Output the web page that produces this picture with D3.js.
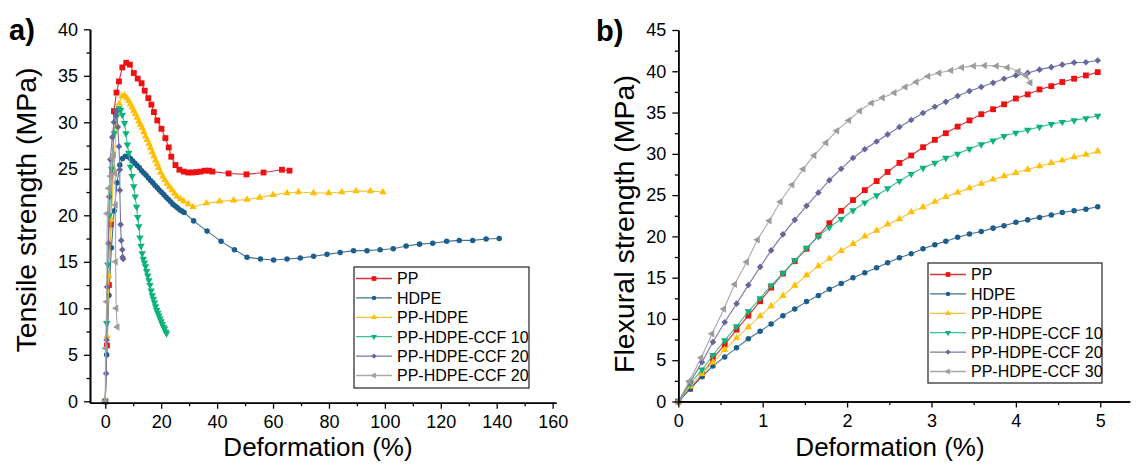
<!DOCTYPE html>
<html><head><meta charset="utf-8">
<script src="https://cdn.jsdelivr.net/npm/d3@7"></script>
<style>
body{margin:0;background:#fff}
svg{display:block}
text{font-family:"Liberation Sans",Arial,sans-serif;fill:#000}
</style>
</head><body>
<svg id="c" width="1137" height="466"></svg>
<script>
// ---------- Panel a) tensile ----------
const tensPP_x   = [0,0.6,1.3,2.0,2.6,3.1,4.0,4.9,6.1,7.5,8.8,10.2,11.6,13.0,14.1,15.4,16.5,17.4,18.6,20.1,21.5,22.7,23.6,25.1,26.5,28.1,29.6,31.1,32.6,34.1,35.6,37.1,38.3,44.1,50.5,56.6,63.2,65.9];
const tensPP_y   = [0,6,12.5,19,24.8,31.2,33.2,34.4,35.9,36.4,36.2,35.3,34.7,34.2,33.4,32.6,31.9,31.1,30.2,29.3,28.3,27.3,26.3,25.4,24.9,24.7,24.6,24.6,24.65,24.7,24.8,24.8,24.7,24.5,24.4,24.6,24.9,24.8];
const tensHDPE_x = [0,0.5,1.3,2.2,3.2,4.2,5.2,6.2,7.2,8.2,9.0,9.8,10.6,11.4,12.2,13.0,13.8,14.6,15.4,16.2,17.0,17.8,18.6,19.4,20.2,21.0,21.8,22.6,23.4,24.2,25.0,25.8,26.6,27.4,28.2,31.6,36.4,41.4,46.2,50.7,55.5,60.2,65.0,69.75,74.5,79.3,84.0,88.8,93.6,98.3,103.0,107.6,112.4,117.1,122.1,126.6,131.4,136.2,140.9];
const tensHDPE_y = [0,5,11.4,16.5,20.5,23.5,25.4,26.1,26.35,26.3,26.1,25.85,25.6,25.35,25.1,24.8,24.55,24.3,24.0,23.75,23.5,23.2,22.95,22.7,22.45,22.2,21.95,21.7,21.45,21.2,21.0,20.8,20.6,20.45,20.3,19.4,18.3,17.2,16.3,15.5,15.3,15.2,15.3,15.4,15.6,15.8,16.0,16.2,16.2,16.3,16.4,16.7,16.9,17.0,17.2,17.3,17.3,17.45,17.5];
const tensPPHDPE_x = [0,0.6,1.3,2.1,3.0,4.0,5.0,6.0,6.9,7.7,8.4,9.0,9.6,10.2,10.8,11.4,12.0,12.6,13.2,13.8,14.4,15.0,15.6,16.2,16.8,17.4,18.0,18.6,19.1,19.8,20.6,21.3,22.1,23.0,23.9,24.8,25.7,26.9,28.1,29.7,31.4,36.2,40.9,45.9,50.7,55.2,60.0,65.0,69.1,74.5,79.9,84.6,89.7,94.8,99.3];
const tensPPHDPE_y = [0,7,13.5,19.6,25,29.5,32,32.8,32.9,32.6,32.3,31.95,31.6,31.25,30.9,30.5,30.1,29.75,29.4,28.95,28.5,28.1,27.7,27.25,26.8,26.35,25.9,25.5,25.1,24.6,24.2,23.8,23.4,23.05,22.7,22.35,22.0,21.75,21.5,21.2,20.9,21.3,21.5,21.6,21.7,21.9,22.2,22.4,22.5,22.4,22.4,22.5,22.6,22.6,22.5];
const tensCCF10_x = [0,0.5,0.9,1.5,2.3,3.2,4.0,4.4,4.9,5.5,6.1,6.9,7.4,7.9,8.4,9.0,9.6,10.2,10.7,11.2,11.6,12.0,12.4,12.8,13.2,13.6,14.0,14.4,14.8,15.2,15.6,16.0,16.4,16.8,17.2,17.6,18.0,18.4,18.8,19.2,19.6,20.0,20.4,20.8,21.2,21.6,21.9];
const tensCCF10_y = [0,8.4,14.7,20,25,28.8,30.6,31.3,31.5,31.3,30.8,29.9,28.8,27.6,26.7,25.2,24.2,23.1,22.0,20.9,19.8,18.8,17.6,16.7,15.9,15.3,14.9,14.5,14.0,13.5,13.0,12.5,11.9,11.4,11.0,10.6,10.2,9.8,9.5,9.2,8.9,8.6,8.3,8.0,7.8,7.5,7.3];
const tensCCF20_x = [0,0.3,0.5,0.7,1.1,1.4,1.8,2.5,3.1,3.7,4.0,4.5,4.9,5.2,5.2,5.5,5.7,6.1,6.2,6.4];
const tensCCF20_y = [0,3,6.6,12.3,17,22,26,28.4,30.0,30.8,31.2,29.5,27.4,24.9,22.7,19,17.3,16.3,15.5,15.3];
const tensCCF20b_x = [0,0.1,0.5,0.7,1.3,1.9,2.5,3.1,3.5,3.7,3.7,3.9,4.3];
const tensCCF20b_y = [0,5.7,10.7,20.2,22.9,24.2,26.1,26.5,24.5,21.1,15.0,10.0,8.0];

// ---------- Panel b) flexural ----------
const flexX = [0,0.14,0.28,0.41,0.55,0.69,0.83,0.97,1.10,1.24,1.38,1.52,1.66,1.79,1.93,2.07,2.21,2.35,2.48,2.62,2.76,2.90,3.04,3.17,3.31,3.45,3.59,3.73,3.86,4.00,4.14,4.28,4.42,4.55,4.69,4.83,4.97];
const flexPP     = [0,1.55,3.15,5.2,6.9,8.7,10.4,12.15,13.8,15.5,17.0,18.5,20.1,21.6,23.1,24.4,25.6,26.7,27.8,28.9,29.8,30.8,31.7,32.5,33.3,34.05,34.8,35.4,36.0,36.7,37.2,37.8,38.2,38.7,39.1,39.5,39.9];
const flexHDPE   = [0,1.5,3.0,4.3,5.4,6.5,7.6,8.5,9.4,10.4,11.2,12.1,12.85,13.6,14.3,15.0,15.6,16.2,16.8,17.4,17.9,18.5,19.0,19.4,19.9,20.3,20.6,21.0,21.3,21.7,22.0,22.3,22.6,22.9,23.1,23.3,23.6];
const flexPPHDPE = [0,1.85,3.35,4.75,6.25,7.7,9.0,10.35,11.55,12.8,14.05,15.3,16.4,17.3,18.25,19.1,20.0,20.7,21.45,22.1,22.95,23.55,24.2,24.8,25.3,25.85,26.4,26.9,27.3,27.7,28.1,28.5,28.9,29.2,29.6,29.9,30.3];
const flexCCF10  = [0,2.15,3.85,5.6,7.4,9.1,10.9,12.5,14.05,15.55,17.1,18.6,20.0,21.1,22.1,23.15,24.1,24.95,25.8,26.7,27.55,28.3,28.9,29.5,30.0,30.6,31.15,31.6,32.15,32.55,32.9,33.25,33.6,33.85,34.05,34.3,34.6];
const flexCCF20  = [0,2.35,4.75,7.2,9.6,11.85,14.1,16.3,18.3,20.25,22.0,23.7,25.3,26.8,28.2,29.5,30.55,31.5,32.35,33.25,34.1,34.95,35.7,36.3,37.0,37.6,38.1,38.6,39.1,39.5,39.8,40.2,40.5,40.8,41.05,41.1,41.3];
const flexCCF30_x = [0,0.13,0.27,0.40,0.54,0.67,0.81,0.94,1.08,1.21,1.35,1.48,1.61,1.75,1.88,2.02,2.15,2.29,2.42,2.56,2.69,2.82,2.96,3.09,3.23,3.36,3.50,3.63,3.77,3.90,4.03,4.12,4.17];
const flexCCF30_y = [0,2.45,5.3,8.2,11.2,14.2,16.9,19.6,21.9,24.2,26.25,28.15,29.8,31.35,32.8,34.05,35.2,36.15,36.8,37.4,38.1,38.7,39.4,39.8,40.1,40.45,40.65,40.7,40.65,40.45,40.0,39.5,38.6];

// ---------- labels / ticks ----------
const namesA = ["PP","HDPE","PP-HDPE","PP-HDPE-CCF 10","PP-HDPE-CCF 20","PP-HDPE-CCF 20"];
const namesB = ["PP","HDPE","PP-HDPE","PP-HDPE-CCF 10","PP-HDPE-CCF 20","PP-HDPE-CCF 30"];
const colors = ["#f01010","#1c5e8c","#ffbf00","#0bb37a","#66669c","#9c9c9c"];
const lineColors = ["#d0343a","#45708f","#f2c23a","#3cbf8e","#7676a6","#a8a8a8"];
const shapes = ["square","circle","up","down","diamond","left"];
const tickXa = [0,20,40,60,80,100,120,140,160];
const minorXa = [10,30,50,70,90,110,130,150];
const tickYa = [0,5,10,15,20,25,30,35,40];
const minorYa = [2.5,7.5,12.5,17.5,22.5,27.5,32.5,37.5];
const tickXb = [0,1,2,3,4,5];
const minorXb = [0.5,1.5,2.5,3.5,4.5];
const tickYb = [0,5,10,15,20,25,30,35,40,45];
const minorYb = [2.5,7.5,12.5,17.5,22.5,27.5,32.5,37.5,42.5];

const svg = d3.select("#c");
const fmt = d3.format("~g");

function symbolPath(shape){
  let type = d3.symbolTriangle, size = 24;
  if(shape==="square"){type=d3.symbolSquare;size=34;}
  else if(shape==="circle"){type=d3.symbolCircle;size=24;}
  else if(shape==="diamond"){type=d3.symbolSquare;size=22;}
  return d3.symbol().type(type).size(size)();
}
function rot(shape){
  return shape==="down"?180:shape==="left"?-90:shape==="diamond"?45:0;
}

function panel(opts){
  const {x,y,xMaj,xMin,yMaj,yMin,series} = opts;
  const g = svg.append("g");
  series.forEach((s,i)=>{
    const pts = s.xs.map((v,k)=>[v,s.ys[k]]);
    g.append("path").datum(pts)
      .attr("d", d3.line().x(d=>x(d[0])).y(d=>y(d[1])).curve(s.curve||d3.curveLinear))
      .attr("fill","none").attr("stroke",lineColors[i]).attr("stroke-width",1.1);
    const sp = symbolPath(shapes[i]);
    g.append("g").selectAll("path").data(pts).join("path")
      .attr("d",sp)
      .attr("transform",d=>`translate(${x(d[0])},${y(d[1])}) rotate(${rot(shapes[i])})`)
      .attr("fill",colors[i]);
  });
  const y0 = y.range()[0], x0 = x.range()[0];
  const gxm = g.append("g").attr("transform",`translate(0,${y0})`)
    .call(d3.axisBottom(x).tickValues(xMin).tickSize(3.5).tickFormat("").tickSizeOuter(0));
  const gx = g.append("g").attr("transform",`translate(0,${y0})`)
    .call(d3.axisBottom(x).tickValues(xMaj).tickSize(6).tickPadding(7).tickFormat(fmt).tickSizeOuter(0));
  const gym = g.append("g").attr("transform",`translate(${x0},0)`)
    .call(d3.axisLeft(y).tickValues(yMin).tickSize(3.5).tickFormat("").tickSizeOuter(0));
  const gy = g.append("g").attr("transform",`translate(${x0},0)`)
    .call(d3.axisLeft(y).tickValues(yMaj).tickSize(6).tickPadding(6).tickFormat(fmt).tickSizeOuter(0));
  [gxm,gx,gym,gy].forEach(a=>{
    a.select(".domain").attr("stroke","#000").attr("stroke-width",1.6);
    a.selectAll(".tick line").attr("stroke","#000").attr("stroke-width",1.3);
    a.selectAll(".tick text").attr("font-size",18).attr("fill","#000")
      .attr("font-family","Liberation Sans, Arial, sans-serif");
  });
  return g;
}

function legend(g, lx, ly, w, h, names){
  g.append("rect").attr("x",lx).attr("y",ly).attr("width",w).attr("height",h)
    .attr("fill","#fff").attr("stroke","#222").attr("stroke-width",1.2);
  names.forEach((n,i)=>{
    const cy = ly + 11.5 + i*19.4;
    g.append("line").attr("x1",lx+2).attr("x2",lx+38).attr("y1",cy).attr("y2",cy)
      .attr("stroke",lineColors[i]).attr("stroke-width",1.3);
    g.append("path").attr("d",symbolPath(shapes[i]))
      .attr("transform",`translate(${lx+20},${cy}) rotate(${rot(shapes[i])}) scale(0.8)`)
      .attr("fill",colors[i]);
    g.append("text").attr("x",lx+43).attr("y",cy+5.8).attr("font-size",16).text(n);
  });
}

// ---- Panel a
const xA = d3.scaleLinear().domain([-5.46,161.2]).range([90,556]);
const yA = d3.scaleLinear().domain([-0.15,40]).range([402.7,29.3]);
const gA = panel({x:xA,y:yA,xMaj:tickXa,xMin:minorXa,yMaj:tickYa,yMin:minorYa,series:[
  {xs:tensPP_x,ys:tensPP_y},
  {xs:tensHDPE_x,ys:tensHDPE_y},
  {xs:tensPPHDPE_x,ys:tensPPHDPE_y},
  {xs:tensCCF10_x,ys:tensCCF10_y},
  {xs:tensCCF20_x,ys:tensCCF20_y},
  {xs:tensCCF20b_x,ys:tensCCF20b_y}
]});
legend(gA, 354, 267, 175, 121, namesA);
svg.append("text").attr("x",318).attr("y",456).attr("text-anchor","middle")
  .attr("font-size",26).text("Deformation (%)");
svg.append("text").attr("transform","translate(36,210) rotate(-90)").attr("text-anchor","middle")
  .attr("font-size",28.5).text("Tensile strength (MPa)");
svg.append("text").attr("x",9).attr("y",40).attr("font-size",29).attr("font-weight","bold").text("a)");

// ---- Panel b
const xB = d3.scaleLinear().domain([0,5.35]).range([678.3,1129.8]);
const yB = d3.scaleLinear().domain([0,45]).range([401.5,30]);
const gB = panel({x:xB,y:yB,xMaj:tickXb,xMin:minorXb,yMaj:tickYb,yMin:minorYb,series:[
  {xs:flexX,ys:flexPP},
  {xs:flexX,ys:flexHDPE},
  {xs:flexX,ys:flexPPHDPE},
  {xs:flexX,ys:flexCCF10},
  {xs:flexX,ys:flexCCF20},
  {xs:flexCCF30_x,ys:flexCCF30_y,curve:d3.curveCatmullRom}
]});
legend(gB, 928, 263, 174, 120, namesB);
svg.append("text").attr("x",890).attr("y",456).attr("text-anchor","middle")
  .attr("font-size",26).text("Deformation (%)");
svg.append("text").attr("transform","translate(633.5,224) rotate(-90)").attr("text-anchor","middle")
  .attr("font-size",28.5).text("Flexural strength (MPa)");
svg.append("text").attr("x",596).attr("y",41).attr("font-size",29).attr("font-weight","bold").text("b)");
</script>
</body></html>
